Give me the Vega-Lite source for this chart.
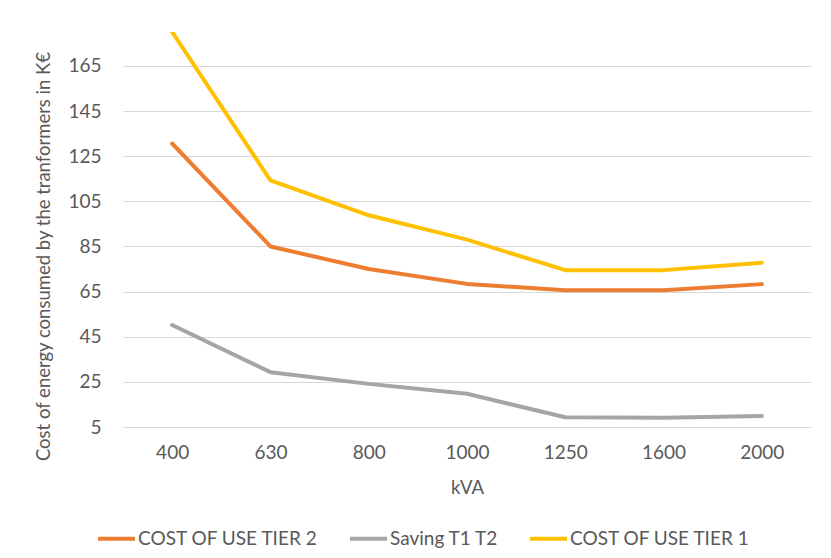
{
  "$schema": "https://vega.github.io/schema/vega-lite/v6.json",
  "width": 688,
  "height": 395,
  "autosize": "none",
  "padding": {"left": 123, "top": 32, "right": 20, "bottom": 131},
  "background": "white",
  "config": {
    "font": "Lato",
    "view": {"stroke": null},
    "axis": {
      "labelFont": "Lato",
      "titleFont": "Lato",
      "labelColor": "#595959",
      "titleColor": "#595959",
      "labelFontSize": 19,
      "titleFontSize": 18.5,
      "titleFontWeight": "normal",
      "ticks": false,
      "domain": false
    }
  },
  "data": {
    "values": [
      {"kva": "400", "series": "COST OF USE TIER 2", "cost": 130.6},
      {"kva": "630", "series": "COST OF USE TIER 2", "cost": 85.0},
      {"kva": "800", "series": "COST OF USE TIER 2", "cost": 75.0},
      {"kva": "1000", "series": "COST OF USE TIER 2", "cost": 68.4},
      {"kva": "1250", "series": "COST OF USE TIER 2", "cost": 65.6},
      {"kva": "1600", "series": "COST OF USE TIER 2", "cost": 65.6},
      {"kva": "2000", "series": "COST OF USE TIER 2", "cost": 68.3},
      {"kva": "400", "series": "Saving T1 T2", "cost": 50.2},
      {"kva": "630", "series": "Saving T1 T2", "cost": 29.3},
      {"kva": "800", "series": "Saving T1 T2", "cost": 24.1},
      {"kva": "1000", "series": "Saving T1 T2", "cost": 19.7},
      {"kva": "1250", "series": "Saving T1 T2", "cost": 9.3},
      {"kva": "1600", "series": "Saving T1 T2", "cost": 9.1},
      {"kva": "2000", "series": "Saving T1 T2", "cost": 9.9},
      {"kva": "400", "series": "COST OF USE TIER 1", "cost": 180.0},
      {"kva": "630", "series": "COST OF USE TIER 1", "cost": 114.3},
      {"kva": "800", "series": "COST OF USE TIER 1", "cost": 98.8},
      {"kva": "1000", "series": "COST OF USE TIER 1", "cost": 88.0},
      {"kva": "1250", "series": "COST OF USE TIER 1", "cost": 74.5},
      {"kva": "1600", "series": "COST OF USE TIER 1", "cost": 74.5},
      {"kva": "2000", "series": "COST OF USE TIER 1", "cost": 77.8}
    ]
  },
  "mark": {"type": "line", "strokeWidth": 4, "strokeCap": "round", "strokeJoin": "round", "clip": true},
  "encoding": {
    "x": {
      "field": "kva",
      "type": "ordinal",
      "sort": ["400", "630", "800", "1000", "1250", "1600", "2000"],
      "scale": {"type": "point", "padding": 0.5},
      "axis": {"title": "kVA", "labelAngle": 0, "labelPadding": 16, "titlePadding": 16, "grid": false}
    },
    "y": {
      "field": "cost",
      "type": "quantitative",
      "scale": {"domain": [5, 180], "nice": false, "zero": false},
      "axis": {
        "title": "Cost of energy consumed by the tranformers in K€",
        "values": [5, 25, 45, 65, 85, 105, 125, 145, 165],
        "grid": true,
        "gridColor": "#D9D9D9",
        "gridWidth": 1,
        "labelPadding": 22,
        "titlePadding": 14,
        "titleY": 224
      }
    },
    "color": {
      "field": "series",
      "type": "nominal",
      "scale": {
        "domain": ["COST OF USE TIER 2", "Saving T1 T2", "COST OF USE TIER 1"],
        "range": ["#ED7D31", "#A5A5A5", "#FFC000"]
      },
      "legend": {
        "title": null,
        "orient": "none",
        "legendX": -27,
        "legendY": 486,
        "direction": "horizontal",
        "symbolType": "stroke",
        "symbolSize": 1369,
        "symbolStrokeWidth": 4,
        "labelFont": "Lato",
        "labelFontSize": 19,
        "labelColor": "#595959",
        "labelOffset": 1,
        "columnPadding": 23,
        "labelLimit": 300
      }
    }
  }
}
